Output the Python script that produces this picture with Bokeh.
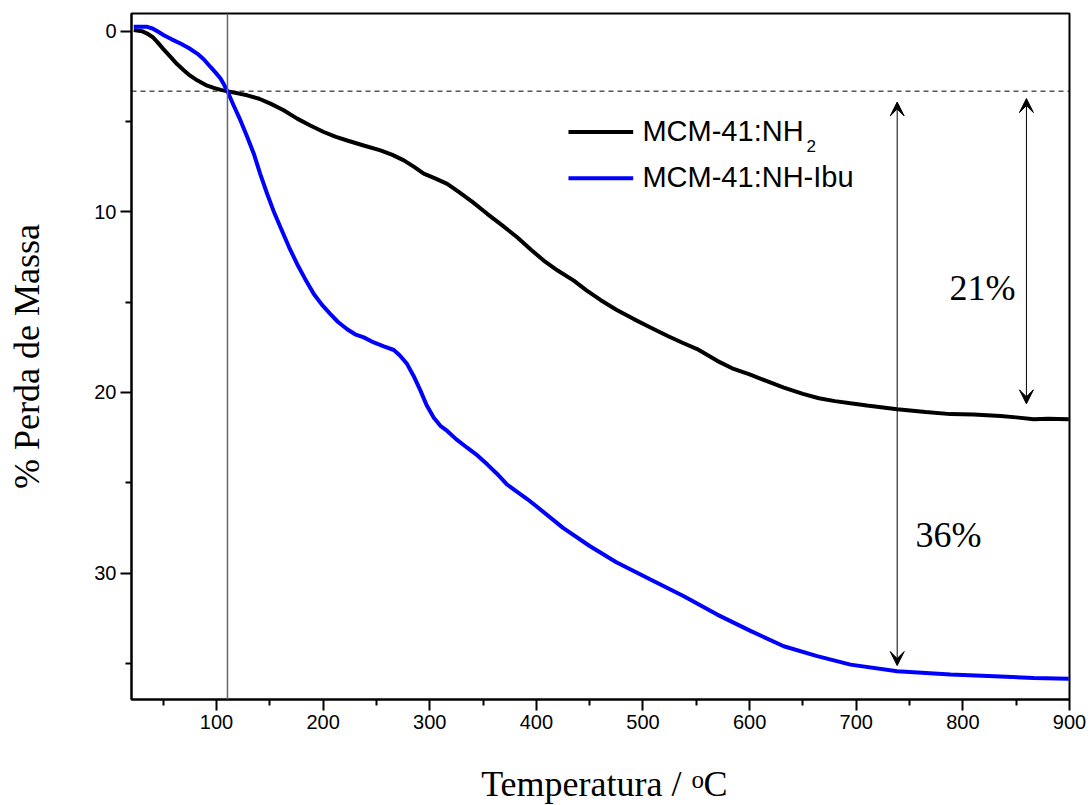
from bokeh.plotting import figure
from bokeh.layouts import column
from bokeh.models import Range1d, FixedTicker, Label, Arrow, VeeHead, Span
from bokeh.embed import file_html
from bokeh.resources import INLINE

# ---- data ----
temp_nh2 = [22.4, 30, 35, 40, 44.4, 50, 56.9, 63, 69.3, 75, 81.9, 90, 97.5, 104, 110.6,
            120, 128.8, 140, 150.6, 163, 175.7, 188, 200.6, 212, 222.6, 238, 253.8, 265,
            275.7, 285, 294.4, 305, 316.4, 327.2, 340, 353.9, 368, 382, 395, 406.9, 420,
            435.1, 447, 460.1, 475, 491.4, 507, 522.7, 537, 550.8, 569.6, 585, 600, 615,
            632.1, 650, 665, 680, 694.6, 710, 738.4, 765, 788.4, 810, 835.3, 850, 866.5,
            880, 899.3]
loss_nh2 = [-0.06, 0.0, 0.13, 0.32, 0.59, 0.98, 1.42, 1.82, 2.16, 2.45, 2.72, 2.98, 3.14,
            3.25, 3.33, 3.44, 3.55, 3.74, 4.01, 4.38, 4.84, 5.22, 5.58, 5.85, 6.05, 6.33,
            6.6, 6.85, 7.15, 7.5, 7.89, 8.15, 8.45, 8.9, 9.45, 10.11, 10.75, 11.41, 12.1,
            12.7, 13.25, 13.81, 14.35, 14.88, 15.42, 15.94, 16.4, 16.86, 17.25, 17.6,
            18.25, 18.7, 19.0, 19.35, 19.73, 20.08, 20.32, 20.48, 20.6, 20.72, 20.93,
            21.08, 21.2, 21.22, 21.3, 21.38, 21.48, 21.45, 21.48]

temp_ibu = [22.4, 30, 35, 40, 45, 50.6, 58, 66.2, 74, 81.9, 88, 94.4, 99, 103.8, 107, 110.6,
            116, 122.5, 128.5, 135, 141, 147.5, 153.5, 160, 168, 175.7, 183, 191.3, 199,
            206.9, 214, 222.6, 230, 238.1, 247.5, 257, 266.3, 272, 278.8, 285, 291.3, 297,
            303.8, 310, 316.4, 325, 335.1, 345, 353.9, 363, 372.6, 382, 391.4, 400, 425,
            450, 475, 507, 538.3, 569.6, 600.8, 632, 663.4, 694.6, 738.4, 788.4, 835.3,
            866.5, 899.3]
loss_ibu = [-0.24, -0.25, -0.24, -0.15, 0.02, 0.22, 0.45, 0.68, 0.93, 1.24, 1.55, 1.98, 2.28,
            2.62, 2.95, 3.37, 4.1, 4.94, 5.8, 6.78, 7.9, 9.0, 9.95, 10.85, 11.95, 12.9,
            13.7, 14.55, 15.15, 15.66, 16.1, 16.5, 16.78, 16.95, 17.23, 17.45, 17.65,
            17.95, 18.43, 19.1, 19.9, 20.7, 21.4, 21.85, 22.13, 22.6, 23.06, 23.5, 23.98,
            24.5, 25.1, 25.5, 25.9, 26.3, 27.5, 28.5, 29.4, 30.36, 31.28, 32.3, 33.2,
            34.05, 34.6, 35.07, 35.44, 35.62, 35.72, 35.81, 35.85]

series_names = ["MCM-41:NH", "MCM-41:NH-Ibu"]
x_ticks = [100, 200, 300, 400, 500, 600, 700, 800, 900]
x_minor = [50, 150, 250, 350, 450, 550, 650, 750, 850]
y_ticks = [0, 10, 20, 30]
y_minor = [5, 15, 25, 35]

# ---- main figure ----
p = figure(frame_width=938, frame_height=686, output_backend="svg", toolbar_location=None,
           x_range=Range1d(20.3, 900), y_range=Range1d(37.0, -0.98),
           min_border_left=131, min_border_right=22, min_border_top=13, min_border_bottom=44)
p.background_fill_color = "white"
p.border_fill_color = "white"
p.outline_line_color = "black"
p.outline_line_width = 2
p.xgrid.visible = False
p.ygrid.visible = False

for ax, tk, mn in ((p.xaxis[0], x_ticks, x_minor), (p.yaxis[0], y_ticks, y_minor)):
    ax.ticker = FixedTicker(ticks=tk, minor_ticks=mn)
    ax.axis_line_width = 2
    ax.major_tick_line_width = 2
    ax.minor_tick_line_width = 2
    ax.major_tick_in = 0
    ax.major_tick_out = 11
    ax.minor_tick_in = 0
    ax.minor_tick_out = 6
    ax.major_label_text_font = "Liberation Sans"
    ax.major_label_text_font_size = "20px"
    ax.major_label_text_color = "black"
    ax.major_label_standoff = 4

p.yaxis.axis_label = "% Perda de Massa"
p.yaxis.axis_label_text_font = "Liberation Serif"
p.yaxis.axis_label_text_font_style = "normal"
p.yaxis.axis_label_text_font_size = "36px"
p.yaxis.axis_label_text_color = "black"
p.yaxis.axis_label_standoff = 44

# reference lines
p.add_layout(Span(location=110.3, dimension="height", line_color="#666666", line_width=1.5))
p.add_layout(Span(location=3.32, dimension="width", line_color="black", line_width=1,
                  line_dash="5 4"))

# curves
p.line(temp_nh2, loss_nh2, line_color="black", line_width=4)
p.line(temp_ibu, loss_ibu, line_color="#0000ff", line_width=4)

# arrows
def vee():
    return VeeHead(size=14, fill_color="black", line_color="black", line_width=1)

p.add_layout(Arrow(start=vee(), end=vee(), x_start=738.4, y_start=3.92, x_end=738.4,
                   y_end=35.12, line_width=1, line_color="black"))
p.add_layout(Arrow(start=vee(), end=vee(), x_start=859.6, y_start=3.73, x_end=859.6,
                   y_end=20.63, line_width=1, line_color="black"))

p.add_layout(Label(x=818.4, y=14.2, text="21%", text_font="Liberation Serif",
                   text_font_size="36px", text_color="black",
                   text_align="center", text_baseline="middle"))
p.add_layout(Label(x=786.5, y=27.9, text="36%", text_font="Liberation Serif",
                   text_font_size="36px", text_color="black",
                   text_align="center", text_baseline="middle"))

# legend (manual, to allow the subscript)
p.line([430.1, 490.8], [5.585, 5.585], line_color="black", line_width=4)
p.line([430.1, 490.8], [8.136, 8.136], line_color="#0000ff", line_width=4)
p.add_layout(Label(x=499.5, y=5.5, text=series_names[0], text_font="Liberation Sans",
                   text_font_size="29px", text_color="black", text_baseline="middle"))
p.add_layout(Label(x=653.3, y=6.35, text="2", text_font="Liberation Sans",
                   text_font_size="17px", text_color="black", text_baseline="middle"))
p.add_layout(Label(x=499.5, y=8.05, text=series_names[1], text_font="Liberation Sans",
                   text_font_size="29px", text_color="black", text_baseline="middle"))

# ---- x axis title strip (allows the superscript); x in page pixels ----
t = figure(frame_width=938, frame_height=62, output_backend="svg", toolbar_location=None,
           x_range=Range1d(131, 1069), y_range=Range1d(62, 0),
           x_axis_type=None, y_axis_type=None,
           min_border_left=131, min_border_right=22, min_border_top=0, min_border_bottom=0)
t.outline_line_color = None
t.xgrid.visible = False
t.ygrid.visible = False
t.add_layout(Label(x=681, y=40.5, text="Temperatura /", text_font="Liberation Serif",
                   text_font_size="36px", text_color="black",
                   text_align="right", text_baseline="middle"))
t.add_layout(Label(x=691, y=36.0, text="o", text_font="Liberation Serif",
                   text_font_size="25px", text_color="black",
                   text_align="left", text_baseline="middle"))
t.add_layout(Label(x=703, y=40.5, text="C", text_font="Liberation Serif",
                   text_font_size="36px", text_color="black",
                   text_align="left", text_baseline="middle"))

layout = column(p, t, spacing=0)
open("out.html", "w").write(file_html(layout, INLINE))
